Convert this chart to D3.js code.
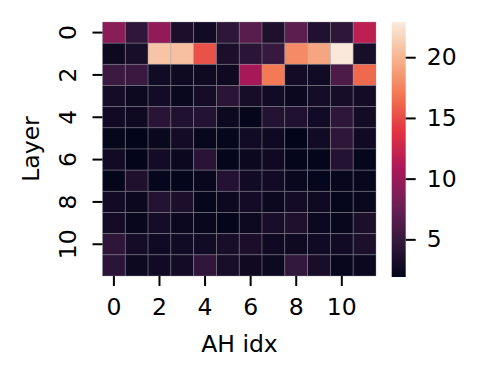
<!DOCTYPE html>
<html><head><meta charset="utf-8">
<script src="https://cdn.jsdelivr.net/npm/d3@7"></script>
<style>body{margin:0;background:#fff}svg{display:block}text{font-family:"DejaVu Sans",sans-serif;fill:#000}</style>
</head><body><svg id="c" width="481" height="380"></svg>
<script>
const layers = [0,1,2,3,4,5,6,7,8,9,10,11];
const heads = [0,1,2,3,4,5,6,7,8,9,10,11];
const xTicks = [0,2,4,6,8,10];
const yTicks = [0,2,4,6,8,10];
const cbTicks = [5,10,15,20];
const values = [
 [9.2,4.6,9.6,3.4,2.8,4.4,6.7,3.6,6.9,3.7,4.5,11.8],
 [2.5,3.2,20.8,20.6,15.3,3.4,4.3,5.0,17.9,19.2,22.8,3.2],
 [5.2,5.1,2.8,2.6,2.6,2.6,10.6,17.1,2.9,2.8,6.1,16.3],
 [3.0,2.5,2.9,2.3,3.0,4.3,3.1,2.8,2.4,3.0,3.1,2.9],
 [2.7,2.6,4.2,3.7,3.8,2.5,2.0,3.8,3.7,2.8,4.4,2.9],
 [2.1,1.9,2.3,2.9,2.2,2.1,2.8,2.6,1.9,2.8,4.4,2.7],
 [2.8,1.95,2.9,2.4,4.2,2.0,2.4,2.6,2.0,2.0,3.9,2.1],
 [2.0,3.6,2.1,2.0,2.2,3.9,2.8,2.8,2.3,2.1,2.2,2.2],
 [2.8,2.4,3.9,3.4,2.1,2.5,2.9,2.4,2.9,2.6,2.1,2.3],
 [2.9,2.2,3.0,2.4,2.2,2.0,2.5,3.2,3.6,2.4,2.2,3.4],
 [4.4,3.0,2.7,2.8,2.8,3.2,3.3,2.6,2.6,2.7,2.8,3.4],
 [4.3,2.5,2.7,2.9,4.6,3.2,2.6,2.5,4.8,3.2,2.2,2.4]
];
const vmin = 1.9, vmax = 22.9;
const rocketStops = ["#03051a","#35193e","#701f57","#ad1759","#e13342","#f37651","#f6b48f","#faebdd"];
const rocketPos = [0,1/7,2/7,3/7,4/7,5/7,6/7,1];
const rocket = d3.scaleLinear().domain(rocketPos).range(rocketStops).interpolate(d3.interpolateRgb).clamp(true);
const color = v => rocket((v - vmin)/(vmax - vmin));

const svg = d3.select("#c");
const L = 102.5, R = 376, T = 22, B = 276;
const x = d3.scaleBand().domain(heads).range([L, R]).padding(0);
const y = d3.scaleBand().domain(layers).range([T, B]).padding(0);

const cells = [];
values.forEach((row, i) => row.forEach((v, j) => cells.push({i, j, v})));
svg.append("g").selectAll("rect").data(cells).join("rect")
  .attr("x", d => x(d.j)).attr("y", d => y(d.i))
  .attr("width", x.bandwidth()).attr("height", y.bandwidth())
  .attr("fill", d => color(d.v))
  .attr("stroke", "rgba(150,150,160,0.45)").attr("stroke-width", 0.8);

const fs = 23.5;
// x axis
const xa = svg.append("g").attr("transform", `translate(0,${B})`)
  .call(d3.axisBottom(x).tickValues(xTicks).tickSize(10).tickPadding(12));
xa.select(".domain").remove();
xa.selectAll("line").attr("stroke", "#000").attr("stroke-width", 2);
xa.selectAll("text").attr("font-size", fs).attr("font-family", "DejaVu Sans").attr("fill","#000");

// y axis
const ya = svg.append("g").attr("transform", `translate(${L},0)`)
  .call(d3.axisLeft(y).tickValues(yTicks).tickSize(10).tickPadding(6));
ya.select(".domain").remove();
ya.selectAll("line").attr("stroke", "#000").attr("stroke-width", 2);
ya.selectAll("text").attr("font-size", fs).attr("font-family", "DejaVu Sans").attr("fill","#000")
  .attr("text-anchor", "middle").attr("dy", null).attr("x", null)
  .attr("transform", "translate(-35,0) rotate(-90)").attr("dominant-baseline","central");

svg.append("text").attr("x", 239.5).attr("y", 351.5).attr("text-anchor", "middle")
  .attr("font-size", fs).text("AH idx");
svg.append("text").attr("transform", `translate(38.5,149) rotate(-90)`).attr("text-anchor", "middle")
  .attr("font-size", fs).text("Layer");

// colorbar
const cbL = 391.7, cbW = 14, cbT = 22, cbB = 277;
const cy = d3.scaleLinear().domain([vmin, vmax]).range([cbB, cbT]);
const defs = svg.append("defs");
const grad = defs.append("linearGradient").attr("id", "g").attr("x1", 0).attr("y1", 1).attr("x2", 0).attr("y2", 0);
d3.range(0, 1.0001, 0.02).forEach(t => grad.append("stop").attr("offset", t).attr("stop-color", rocket(t)));
svg.append("rect").attr("x", cbL).attr("y", cbT).attr("width", cbW).attr("height", cbB - cbT).attr("fill", "url(#g)");
const ca = svg.append("g").attr("transform", `translate(${cbL + cbW},0)`)
  .call(d3.axisRight(cy).tickValues(cbTicks).tickSize(10).tickPadding(11));
ca.select(".domain").remove();
ca.selectAll("line").attr("stroke", "#000").attr("stroke-width", 2);
ca.selectAll("text").attr("font-size", fs).attr("font-family", "DejaVu Sans").attr("fill","#000");
</script></body></html>
